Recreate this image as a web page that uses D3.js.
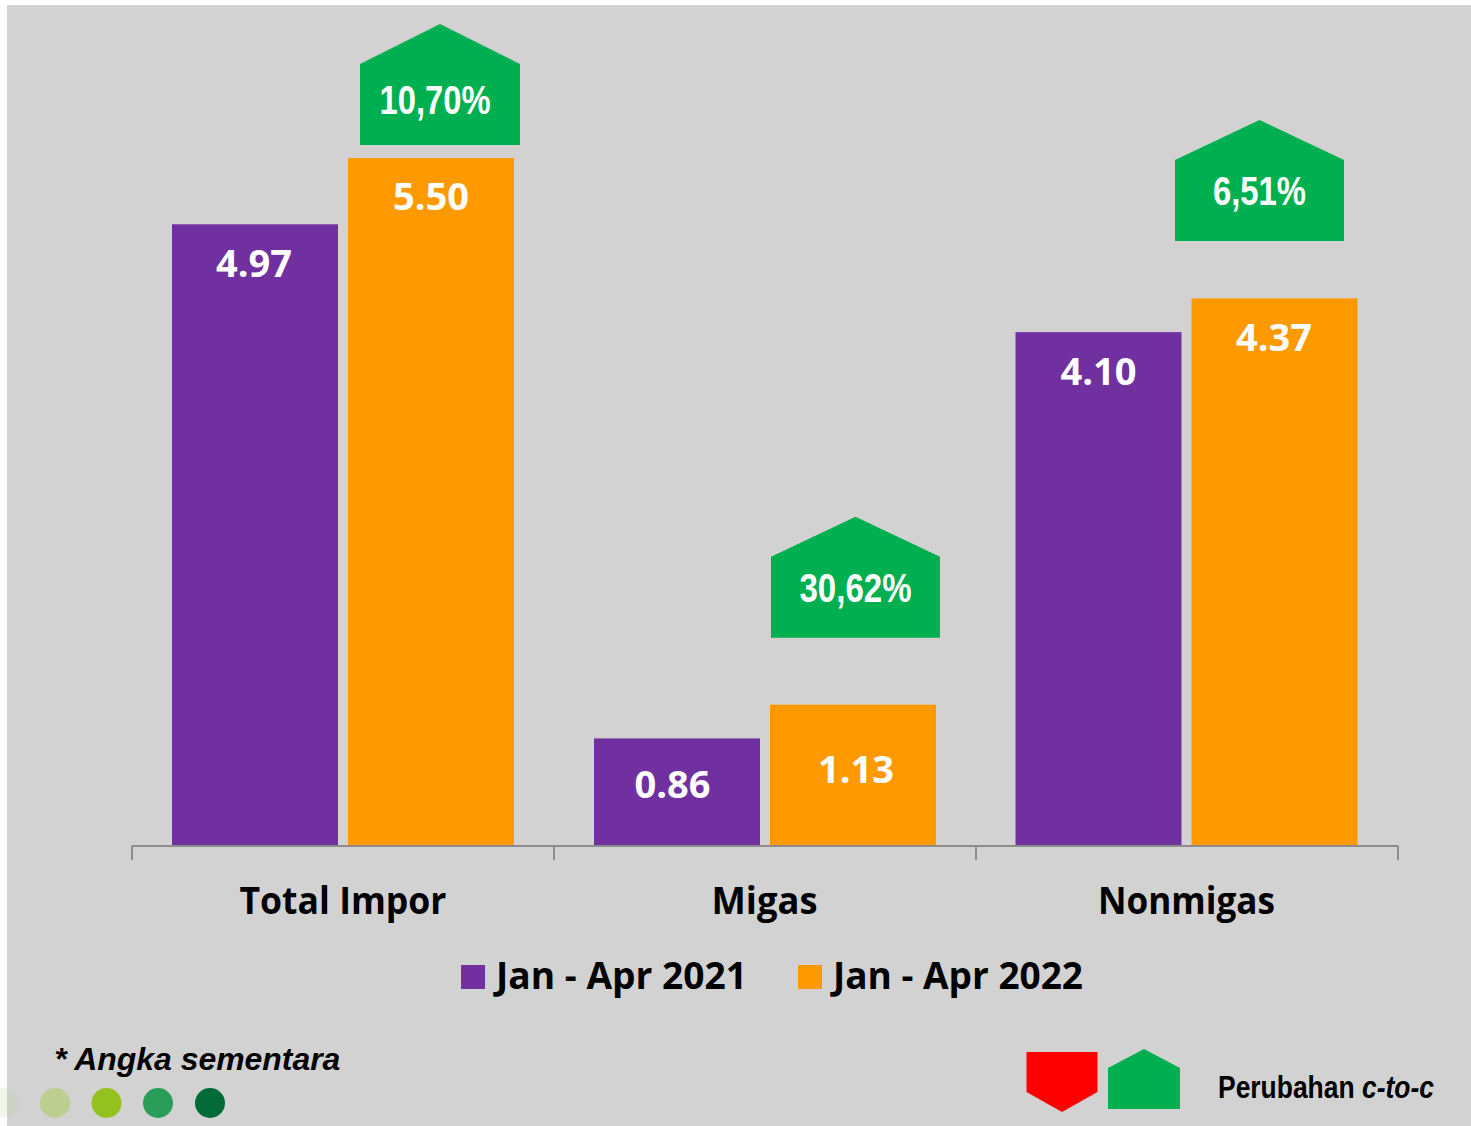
<!DOCTYPE html>
<html><head><meta charset="utf-8">
<script src="https://cdn.jsdelivr.net/npm/d3@7"></script>
<style>html,body{margin:0;padding:0;background:#fff;overflow:hidden}svg{display:block}</style>
</head><body><svg id="c" width="1471" height="1126"></svg>
<script>
const categories = ["Total Impor","Migas","Nonmigas"];
const seriesNames = ["Jan - Apr 2021","Jan - Apr 2022"];
const values2021 = [4.97,0.86,4.10];
const values2022 = [5.50,1.13,4.37];
const changes = ["10,70%","30,62%","6,51%"];

const colors = ["#7030a0","#ff9900"];
const svg = d3.select("#c");
const OS = "'Open Sans'", LS = "'Liberation Sans'", LN = "'Liberation Sans Narrow','Liberation Sans'";

svg.append("rect").attr("x",7).attr("y",5).attr("width",1464).attr("height",1121).attr("fill","#d2d2d2");

const x0 = d3.scaleBand().domain(categories).range([132,1398]);
const x1 = d3.scaleBand().domain([0,1]).range([40,382]).paddingInner(10/176);
const y = d3.scaleLinear().domain([0,5.5]).range([846,158]);

function txt(s,x,yy,size,o={}){
  const t = svg.append("text").attr("x",x).attr("y",yy)
    .attr("font-family",o.font||OS).attr("font-size",size).attr("font-weight",o.weight||700)
    .attr("font-style",o.italic?"italic":"normal").attr("fill",o.fill||"#000")
    .attr("text-anchor",o.anchor||"middle").text(s);
  if(o.len) t.attr("textLength",o.len).attr("lengthAdjust","spacingAndGlyphs");
  return t;
}
// one text element, stretched horizontally to a target width
function mixed(parts,xx,yy,size,font,width){
  const t = svg.append("text").attr("font-family",font).attr("font-size",size).attr("font-weight",700).attr("fill","#000");
  parts.forEach(p=>t.append("tspan").attr("font-style",p[1]?"italic":"normal").text(p[0]));
  t.style("white-space","pre");
  const k = width/t.node().getComputedTextLength();
  t.attr("transform",`translate(${xx},${yy}) scale(${k},1)`);
  return t;
}

// bars + value labels
const labelDrop = [[53,52],[60,78],[52,52]];
const labelShift = [[-1,0],[-4.5,3],[-0.5,-1]];
const barNudgeX = [0,0,0.5], barNudgeY = [0,0,1];
[values2021,values2022].forEach((vals,s)=>{
  svg.append("g").selectAll("rect").data(vals).join("rect")
    .attr("x",(d,i)=>x0(categories[i])+x1(s)-barNudgeX[i]).attr("width",x1.bandwidth())
    .attr("y",(d,i)=>y(d)-barNudgeY[i]).attr("height",(d,i)=>y(0)-y(d)+barNudgeY[i]).attr("fill",colors[s]);
  vals.forEach((v,i)=>{
    txt(v.toFixed(2), x0(categories[i])+x1(s)+x1.bandwidth()/2+labelShift[i][s], y(v)+labelDrop[i][s], 38, {fill:"#fff"});
  });
});

// axis
const axis = d3.axisBottom(d3.scaleLinear().domain([0,3]).range([132,1398])).tickValues([0,1,2,3]).tickSize(14).tickSizeOuter(0).tickFormat("").offset(0);
const ag = svg.append("g").attr("transform","translate(0,846)").call(axis);
ag.selectAll("path,line").attr("stroke","#8c8c8c").attr("stroke-width",2).attr("fill","none");
const catLen = [207,106,177], catDx=[0,-0.5,-0.5];
categories.forEach((c,i)=>txt(c,x0(c)+x0.bandwidth()/2+catDx[i],914,38,{len:catLen[i]}));

// change badges
function house(cx,w,top,sh,bot,fill){
  const l=cx-w/2,r=cx+w/2;
  svg.append("path").attr("d",d3.line()([[l,sh],[cx,top],[r,sh],[r,bot],[l,bot]])+"Z").attr("fill",fill);
}
const badgeDx=[97,90.5,72.5], badgeW=[160,169,169], badgeGap=[13,67,58.4], pctLen=[111,112,93], pctDx=[-5,0,0], pctUp=[31,36,36];
categories.forEach((c,i)=>{
  const cx=x0(c)+x0.bandwidth()/2+badgeDx[i];
  const bot=y(values2022[i])-badgeGap[i];
  house(cx,badgeW[i],bot-121,bot-81,bot,"#00b050");
  txt(changes[i],cx+pctDx[i],bot-pctUp[i],40,{font:LN,fill:"#fff",len:pctLen[i]});
});

// legend
const lgSq=[461,798], lgTx=[496,833], lgLen=[251,250];
seriesNames.forEach((n,i)=>{
  svg.append("rect").attr("x",lgSq[i]).attr("y",965).attr("width",24).attr("height",24).attr("fill",colors[i]);
  txt(n,lgTx[i],989,38,{anchor:"start",len:lgLen[i]});
});

// footnote
mixed([["*\u2009",false],["Angka sementara",true]],55.5,1070,31,LS,285);
const dotX=[3,55,106.5,158,210], dotC=["#bccf91","#bccf91","#95c11f","#2a9d58","#006a38"], dotO=[0.2,1,1,1,1];
dotX.forEach((x,i)=>svg.append("circle").attr("cx",x).attr("cy",1103).attr("r",15).attr("fill",dotC[i]).attr("opacity",dotO[i]));

// key
svg.append("path").attr("d",d3.line()([[1026.5,1052],[1097.5,1052],[1097.5,1092],[1062,1112],[1026.5,1092]])+"Z").attr("fill","#ff0000");
house(1144,72,1049,1068,1109,"#00b050");
mixed([["Perubahan ",false],["c-to-c",true]],1218,1098,31,LS,216);
</script></body></html>
